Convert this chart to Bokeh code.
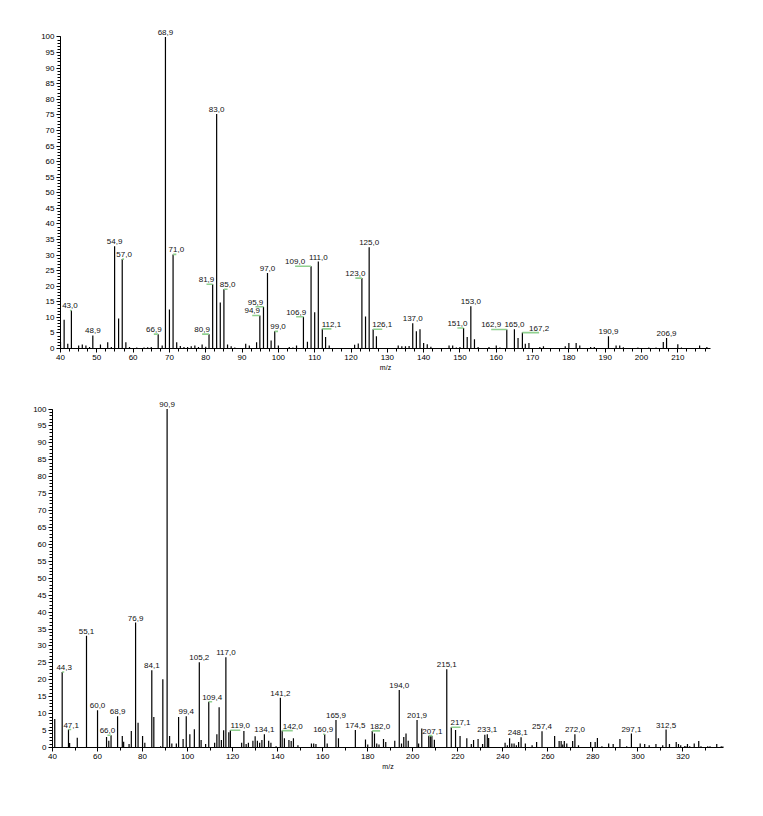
from bokeh.plotting import figure
from bokeh.models import Range1d, SingleIntervalTicker, ColumnDataSource
from bokeh.core.properties import value
from bokeh.embed import file_html
from bokeh.resources import INLINE

# ---------------- data: top spectrum ----------------
top_mz = [40, 41, 42, 43.0, 45, 46, 47, 48, 48.9, 51, 53, 54, 54.9, 56, 57.0, 58, 59,
          61, 63, 64, 65, 66.9, 68, 68.9, 70, 71.0, 72, 73, 74, 75, 76, 77, 78, 79, 80,
          80.9, 81.9, 83.0, 84, 85.0, 86, 87, 88, 91, 92, 94, 94.9, 95.9, 97.0, 98, 99.0,
          100, 103, 104, 105, 106.9, 108, 109.0, 110, 111.0, 112.1, 113, 114, 121, 122,
          123.0, 124, 125.0, 126.1, 127, 133, 134, 135, 136, 137.0, 138, 139, 140, 141,
          142, 147, 148, 149, 150, 151.0, 152, 153.0, 154, 155, 158, 160, 161, 162.9,
          165.0, 166, 167.2, 168, 169, 172, 173, 179, 180, 182, 183, 186, 187, 190.9,
          193, 194, 195, 199, 202, 204, 206, 206.9, 210, 211, 216, 218]
top_int = [2.2, 9.2, 1.5, 12.2, 1.0, 1.3, 1.0, 0.5, 4.2, 1.3, 2.0, 0.5, 32.8, 9.6, 28.7, 2.0, 0.5,
           0.3, 0.3, 0.4, 0.5, 4.6, 1.0, 100.0, 12.5, 30.2, 2.0, 0.8, 0.5, 0.5, 0.7, 1.0, 0.5, 1.3, 0.6,
           4.6, 20.6, 75.3, 14.8, 19.0, 1.3, 0.7, 0.3, 1.5, 1.0, 2.0, 10.6, 13.4, 24.2, 2.6, 5.5,
           1.0, 0.5, 0.3, 1.0, 10.2, 2.2, 26.4, 11.6, 27.9, 6.3, 3.7, 1.0, 1.2, 1.6,
           22.6, 10.3, 32.5, 6.2, 3.9, 1.0, 0.7, 0.7, 0.8, 8.1, 5.5, 6.2, 1.8, 1.4,
           0.6, 1.0, 1.0, 0.3, 0.5, 6.6, 3.7, 13.6, 3.0, 0.5, 0.5, 1.0, 0.3, 6.1,
           6.2, 3.4, 5.1, 1.5, 1.8, 0.5, 0.7, 0.7, 1.8, 1.8, 1.0, 0.5, 0.5, 3.9,
           1.0, 1.0, 0.4, 0.3, 0.3, 0.3, 2.1, 3.4, 1.4, 0.3, 1.0, 0.5]
top_labels = [43.0, 48.9, 54.9, 57.0, 66.9, 68.9, 71.0, 80.9, 81.9, 83.0, 85.0, 94.9, 95.9,
              97.0, 99.0, 106.9, 109.0, 111.0, 112.1, 123.0, 125.0, 126.1, 137.0, 151.0,
              153.0, 162.9, 165.0, 167.2, 190.9, 206.9]

# ---------------- data: bottom spectrum ----------------
bot_mz = [41, 44.3, 47.1, 47.6, 51, 55.1, 60.0, 64, 65, 66.0, 68.9, 71, 71.6, 74, 75, 76.9, 78,
          80, 81, 84.1, 85, 88, 89, 90.9, 92, 93, 95, 96, 98, 99.4, 101, 103, 105.2, 106, 108,
          109.4, 112, 113, 114, 115, 116, 117.0, 118.3, 119.0, 124, 125, 126, 127, 129, 130,
          131, 132, 133, 134.1, 136, 137, 139.3, 141.2, 142.0, 143, 145, 146, 147, 149, 155,
          156, 157, 160.9, 162, 165.9, 167, 174.5, 179, 180, 182.0, 183, 184, 185, 187, 188,
          192, 194.0, 195, 196, 197, 198, 201.9, 202.6, 204, 207.1, 207.8, 208.5, 209.6,
          215.1, 217.1, 219, 221, 224, 226, 227, 229, 231, 232, 233.1, 233.7, 241, 242, 243,
          244, 245, 246, 247, 248.1, 250, 253, 255, 257.4, 263, 265, 265.9, 266.6, 267.3,
          268.4, 271, 272.0, 273.6, 279, 281, 282, 284, 287, 289, 292, 295, 297.1, 301, 303,
          305, 308, 311, 312.5, 314, 317, 318, 319, 320.7, 321.3, 322, 323, 325, 327, 328,
          331, 332, 335, 337, 337.8]
bot_int = [8.4, 22.3, 5.3, 1.3, 2.9, 33.0, 11.0, 3.1, 2.0, 3.6, 9.2, 3.4, 1.7, 1.0, 4.9, 36.9, 7.3,
           3.4, 1.4, 22.8, 9.0, 0.4, 20.2, 100.0, 3.4, 1.2, 1.2, 9.0, 2.5, 9.2, 3.9, 5.4, 25.2, 2.2, 1.0,
           13.5, 1.4, 3.9, 11.9, 2.2, 5.1, 26.7, 4.5, 5.1, 1.4, 4.9, 1.0, 1.4, 2.0, 3.3,
           2.0, 1.4, 2.2, 3.9, 2.0, 1.4, 0.4, 14.7, 5.0, 2.7, 2.2, 1.9, 2.7, 0.7, 1.2,
           1.2, 1.0, 3.9, 1.2, 8.1, 2.7, 5.2, 2.4, 0.9, 4.9, 4.1, 1.2, 0.9, 2.5, 1.6,
           2.0, 17.0, 1.2, 3.1, 4.1, 2.0, 8.1, 1.2, 5.6, 3.5, 3.4, 3.4, 2.3,
           23.1, 6.0, 5.2, 3.4, 2.7, 1.0, 2.2, 2.5, 1.0, 3.8, 3.9, 2.8, 1.4, 0.7, 2.7,
           1.2, 1.2, 0.7, 1.6, 3.0, 1.2, 0.7, 1.6, 4.8, 3.4, 1.9, 1.9, 0.9, 1.9,
           1.2, 1.9, 3.9, 0.7, 1.6, 1.6, 2.8, 0.4, 1.2, 1.0, 2.5, 0.4, 4.1, 1.2, 1.0,
           0.7, 1.0, 0.7, 5.3, 1.0, 1.6, 1.0, 0.7, 0.4, 0.4, 1.0, 0.4, 1.2, 1.9, 0.4,
           0.4, 0.4, 1.0, 0.4, 0.4]
bot_labels = [44.3, 47.1, 55.1, 60.0, 66.0, 68.9, 76.9, 84.1, 90.9, 99.4, 105.2, 109.4, 117.0,
              119.0, 134.1, 141.2, 142.0, 160.9, 165.9, 174.5, 182.0, 194.0, 201.9, 207.1,
              215.1, 217.1, 233.1, 248.1, 257.4, 272.0, 297.1, 312.5]

# ---------------- label placement (style) ----------------
top_shift = {43.0: -0.4, 57.0: 0.5, 66.9: -1.2, 71.0: 0.9, 80.9: -1.9, 81.9: -1.7, 85.0: 1.0,
             94.9: -2.1, 95.9: -2.2, 99.0: 0.9, 106.9: -2.0, 109.0: -4.4, 112.1: 2.5,
             123.0: -1.8, 126.1: 2.5, 151.0: -1.7, 162.9: -4.3, 167.2: 4.6}
bot_shift = {44.3: 0.9, 47.1: 1.2, 66.0: -1.6, 109.4: 1.5, 119.0: 4.4, 142.0: 4.7,
             160.9: -0.7, 182.0: 3.5, 207.1: 1.6, 217.1: 4.1, 248.1: -1.5}
no_leader = {248.1}

FONT = "Liberation Sans"
GREEN = "#8fd08f"


def make_plot(mz, inten, labels, shift, xr, fw, fh, left, top, bottom, xint, xminor):
    p = figure(x_range=Range1d(*xr), y_range=Range1d(0, 104),
               output_backend="svg", toolbar_location=None,
               frame_width=fw, frame_height=fh)
    p.min_border_left = left
    p.min_border_right = 16
    p.min_border_top = top
    p.min_border_bottom = bottom
    p.outline_line_color = None
    p.xgrid.visible = False
    p.ygrid.visible = False
    p.background_fill_color = "white"
    p.border_fill_color = "white"

    p.segment(x0=mz, y0=[0] * len(mz), x1=mz, y1=inten, line_color="black", line_width=1.2)

    hmap = dict(zip(mz, inten))
    lx, ly, lt = [], [], []
    gx0, gx1, gy = [], [], []
    for m in labels:
        h = hmap[m]
        d = shift.get(m, 0.0)
        lx.append(m + d)
        ly.append(h)
        lt.append(("%.1f" % m).replace(".", ","))
        if d != 0 and m not in no_leader:
            gx0.append(m)
            gx1.append(m + d)
            gy.append(h)
    p.segment(x0=gx0, y0=gy, x1=gx1, y1=gy, line_color=GREEN, line_width=1.6)
    src = ColumnDataSource(dict(x=lx, y=ly, t=lt))
    p.text(x="x", y="y", text="t", source=src, text_align="center",
           text_baseline="bottom", y_offset=-2, text_font=value(FONT),
           text_font_size="8px", text_color="#111111")

    xa = p.xaxis[0]
    xa.ticker = SingleIntervalTicker(interval=xint, num_minor_ticks=xminor)
    xa.axis_label = "m/z"
    xa.axis_label_text_font = FONT
    xa.axis_label_text_font_size = "7px"
    xa.axis_label_text_font_style = "normal"
    xa.axis_label_standoff = 1
    xa.major_label_text_font = FONT
    xa.major_label_text_font_size = "8px"
    xa.major_label_standoff = 2
    xa.major_tick_out = 4
    xa.major_tick_in = 0
    xa.minor_tick_out = 3
    xa.minor_tick_in = 0

    ya = p.yaxis[0]
    ya.ticker = SingleIntervalTicker(interval=5, num_minor_ticks=5)
    ya.bounds = (0, 100)
    ya.major_label_text_font = FONT
    ya.major_label_text_font_size = "8px"
    ya.major_label_standoff = 2
    ya.major_tick_out = 4
    ya.major_tick_in = 0
    ya.minor_tick_out = 3
    ya.minor_tick_in = 0
    for a in (xa, ya):
        a.axis_line_color = "black"
        a.major_tick_line_color = "black"
        a.minor_tick_line_color = "black"
        a.major_label_text_color = "black"
        a.axis_label_text_color = "black"
    return p


p1 = make_plot(top_mz, top_int, top_labels, top_shift, (40, 219), 650, 324, 60, 24, 30, 10, 4)
p2 = make_plot(bot_mz, bot_int, bot_labels, bot_shift, (40, 338), 671, 352, 52, 17, 40, 20, 2)

# two independent roots so the frames keep their own left offsets
open("out.html", "w").write(file_html([p1, p2], INLINE))
